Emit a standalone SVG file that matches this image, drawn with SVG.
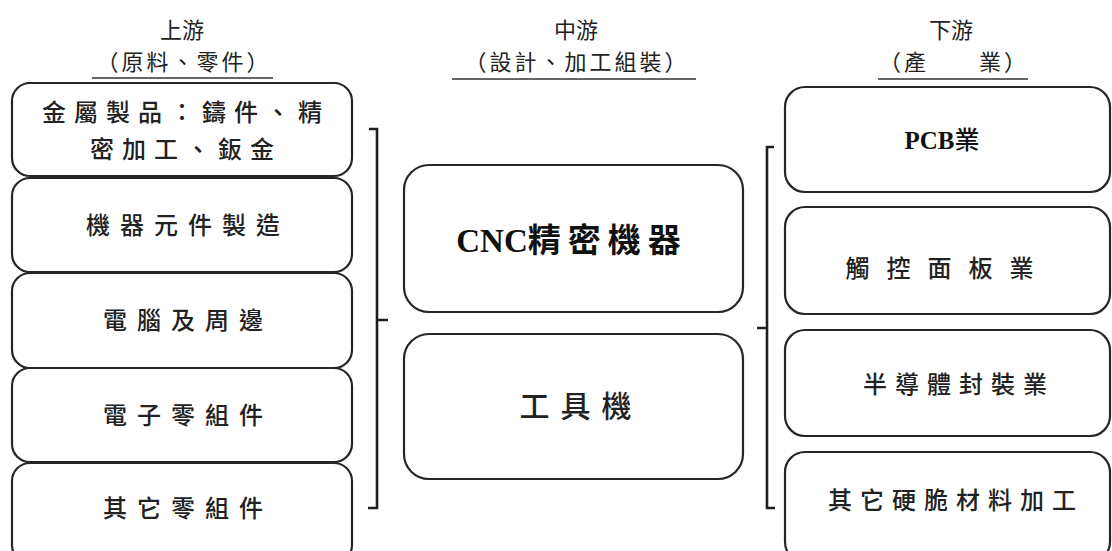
<svg xmlns="http://www.w3.org/2000/svg" width="1112" height="551" viewBox="0 0 1112 551">
<style>
.bx{fill:#fff;stroke:#262626;stroke-width:2.2}
.t{font-family:"Liberation Serif","Noto Sans CJK TC",serif;font-weight:500;fill:#222;text-anchor:middle}
.h{font-family:"Liberation Serif","Noto Sans CJK TC",serif;fill:#222;text-anchor:middle}
.b{font-family:"Liberation Serif","Noto Sans CJK TC",serif;font-weight:bold;fill:#111;text-anchor:middle}
.ln{fill:none;stroke:#1e1e1e;stroke-width:2.6}
.ul{stroke:#333;stroke-width:1.6}
</style>
<rect width="1112" height="551" fill="#fff"/>
<g id="headers">
<text class="h" x="182" y="38" font-size="22">上游</text>
<text class="h" x="184" y="70" font-size="22" letter-spacing="3">（原料、零件）</text>
<line class="ul" x1="92" y1="78" x2="273" y2="78"/>
<text class="h" x="576" y="38" font-size="22">中游</text>
<text class="h" x="577" y="70" font-size="22" letter-spacing="3">（設計、加工組裝）</text>
<line class="ul" x1="452" y1="79" x2="696" y2="79"/>
<text class="h" x="951" y="38" font-size="22">下游</text>
<text class="h" x="954" y="70" font-size="22" letter-spacing="3">（產　　業）</text>
<line class="ul" x1="878" y1="79" x2="1028" y2="79"/>
</g>
<g id="up1"><rect class="bx" x="12" y="83" width="340" height="93" rx="18"/>
<text class="t" x="186" y="121" font-size="24" letter-spacing="8">金屬製品：鑄件、精</text>
<text class="t" x="186" y="158" font-size="24" letter-spacing="8">密加工、鈑金</text></g>
<g id="up2"><rect class="bx" x="12" y="178" width="340" height="94" rx="18"/>
<text class="t" x="188" y="234" font-size="24" letter-spacing="10">機器元件製造</text></g>
<g id="up3"><rect class="bx" x="12" y="273" width="340" height="95" rx="18"/>
<text class="t" x="188" y="329" font-size="24" letter-spacing="10">電腦及周邊</text></g>
<g id="up4"><rect class="bx" x="12" y="368" width="340" height="94" rx="18"/>
<text class="t" x="188" y="424" font-size="24" letter-spacing="10">電子零組件</text></g>
<g id="up5"><rect class="bx" x="12" y="463" width="340" height="100" rx="18"/>
<text class="t" x="188" y="517" font-size="24" letter-spacing="10">其它零組件</text></g>
<g id="mid1"><rect class="bx" x="404" y="165" width="339" height="147" rx="25"/>
<text class="b" x="572" y="252" font-size="33"><tspan>CNC</tspan><tspan letter-spacing="7">精密機器</tspan></text></g>
<g id="mid2"><rect class="bx" x="404" y="334" width="339" height="145" rx="25"/>
<text class="t" x="581" y="417" font-size="30" letter-spacing="11">工具機</text></g>
<g id="down1"><rect class="bx" x="785" y="87" width="325" height="105" rx="20"/>
<text class="b" x="942" y="149" font-size="25">PCB<tspan font-weight="500">業</tspan></text></g>
<g id="down2"><rect class="bx" x="785" y="207" width="325" height="107" rx="20"/>
<text class="t" x="948" y="277" font-size="24" letter-spacing="17">觸控面板業</text></g>
<g id="down3"><rect class="bx" x="785" y="330" width="325" height="106" rx="20"/>
<text class="t" x="959" y="393" font-size="24" letter-spacing="8">半導體封裝業</text></g>
<g id="down4"><rect class="bx" x="785" y="452" width="325" height="110" rx="20"/>
<text class="t" x="956" y="509" font-size="24" letter-spacing="8">其它硬脆材料加工</text></g>
<g id="connectors">
<path class="ln" d="M369 129 H377 V508 H368 M377 320 H388"/>
<path class="ln" d="M774 147 H767 V508 H775 M767 328 H757"/>
</g>
</svg>
